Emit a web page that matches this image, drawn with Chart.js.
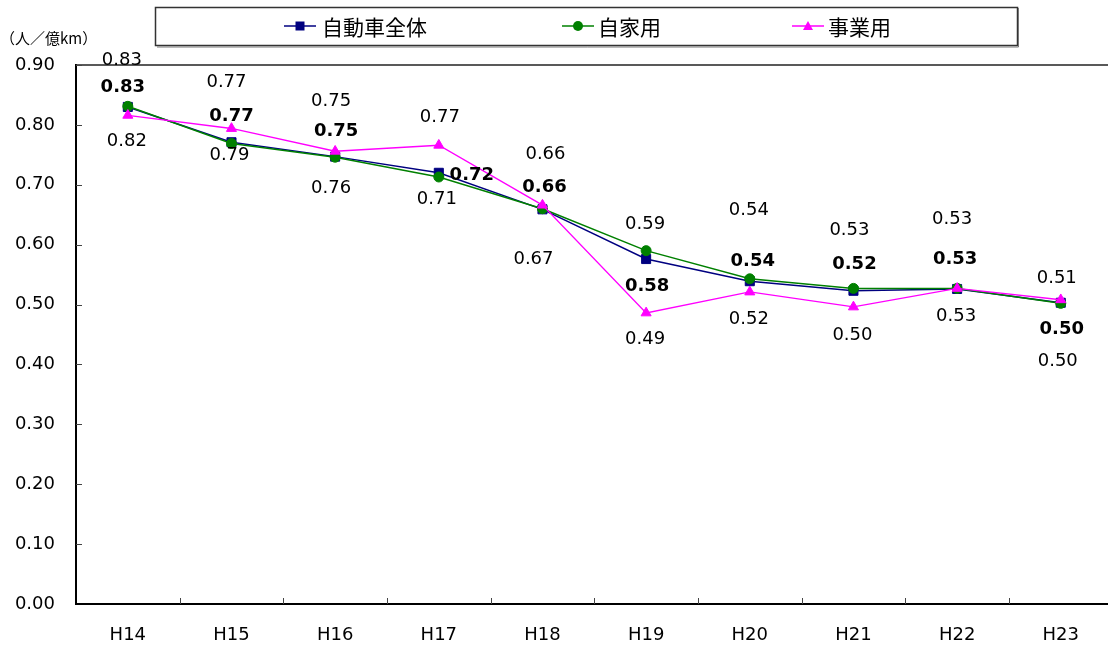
<!DOCTYPE html>
<html><head><meta charset="utf-8">
<script src="https://cdn.jsdelivr.net/npm/chart.js@4.4.1/dist/chart.umd.min.js"></script>
<style>
html,body{margin:0;padding:0;background:#fff;overflow:hidden;width:1108px;height:646px}
canvas{display:block}
</style>
</head><body>
<canvas id="c" width="1120" height="646"></canvas>
<script>
// ---- data ----
const categories = ['H14','H15','H16','H17','H18','H19','H20','H21','H22','H23'];
const seriesNames = ['自動車全体','自家用','事業用'];
const totalValues    = [0.830, 0.771, 0.747, 0.720, 0.659, 0.576, 0.539, 0.523, 0.526, 0.503];
const privateValues  = [0.831, 0.769, 0.746, 0.713, 0.660, 0.590, 0.543, 0.527, 0.527, 0.502];
const businessValues = [0.816, 0.794, 0.756, 0.766, 0.666, 0.486, 0.521, 0.496, 0.527, 0.508];
const yMin = 0, yMax = 0.9, yStep = 0.1;
const yUnit = '（人／億km）';

// ---- label layout (pixel offsets from each point) ----
const totalLabelOffsets    = [[-5,-20],[0,-26],[1,-25],[33,3],[2,-22],[1,27],[3,-20],[1,-26],[-2,-30],[1,27]];
const privateLabelOffsets  = [[-6,-46],[-5,-61],[-4,-56],[-2,22],[3,-54],[-1,-26],[-1,-68],[-4,-58],[-5,-69],[-3,58]];
const businessLabelOffsets = [[-1,26],[-2,27],[-4,37],[1,-28],[-9,54],[-1,26],[-1,27],[-1,28],[-1,28],[-4,-21]];

const colors = ['#000080','#008000','#ff00ff'];
const NUMFONT = '"DejaVu Sans", "Liberation Sans", Arial, sans-serif';
const CJKFONT = '"Noto Sans CJK JP", "Noto Sans", sans-serif';

function fmt(v){ return (Math.round(v*100)/100).toFixed(2); }

const labelSpecs = [
  {offsets: totalLabelOffsets, bold: true},
  {offsets: privateLabelOffsets, bold: false},
  {offsets: businessLabelOffsets, bold: false}
];

const decor = {
  id: 'decor',
  beforeDatasetsDraw(chart){
    const {ctx, chartArea:a, scales} = chart;
    ctx.save();
    ctx.strokeStyle = '#222'; ctx.lineWidth = 1.5;
    ctx.beginPath(); ctx.moveTo(a.left, a.top); ctx.lineTo(a.right, a.top); ctx.stroke();
    ctx.beginPath(); ctx.moveTo(a.right, a.top); ctx.lineTo(a.right, a.bottom); ctx.stroke();
    ctx.strokeStyle = '#444'; ctx.lineWidth = 1;
    for (let v = yMin + yStep; v <= yMax + 1e-9; v += yStep){
      const y = Math.round(scales.y.getPixelForValue(v)) + 0.5;
      ctx.beginPath(); ctx.moveTo(a.left, y); ctx.lineTo(a.left + 6, y); ctx.stroke();
    }
    for (let i = 1; i < categories.length; i++){
      const x = Math.round((scales.x.getPixelForValue(i-1) + scales.x.getPixelForValue(i))/2) + 0.5;
      ctx.beginPath(); ctx.moveTo(x, a.bottom); ctx.lineTo(x, a.bottom - 6); ctx.stroke();
    }
    ctx.restore();
  },
  afterDatasetsDraw(chart){
    const ctx = chart.ctx;
    ctx.save();
    ctx.fillStyle = '#000';
    ctx.textAlign = 'center';
    ctx.textBaseline = 'middle';
    chart.data.datasets.forEach((ds, di) => {
      const meta = chart.getDatasetMeta(di);
      const spec = labelSpecs[di];
      ctx.font = (spec.bold ? 'bold ' : '') + '18px ' + NUMFONT;
      meta.data.forEach((pt, i) => {
        const off = spec.offsets[i];
        ctx.fillText(fmt(ds.data[i]), pt.x + off[0], pt.y + off[1]);
      });
    });
    ctx.restore();
  },
  afterDraw(chart){
    const ctx = chart.ctx;
    ctx.save();
    ctx.fillStyle = '#000';
    ctx.font = '15px ' + CJKFONT;
    ctx.textAlign = 'left'; ctx.textBaseline = 'middle';
    ctx.fillText(yUnit, 0, 38);
    ctx.strokeStyle = '#333'; ctx.lineWidth = 1.5;
    ctx.strokeRect(155.5, 7.5, 862, 38);
    ctx.strokeStyle = '#777'; ctx.lineWidth = 1;
    ctx.beginPath(); ctx.moveTo(1018.5, 8); ctx.lineTo(1018.5, 47); ctx.lineTo(157, 47); ctx.stroke();
    const items = [{x:284, tx:322},{x:562, tx:598},{x:792, tx:828}];
    const ly = 26;
    chart.data.datasets.forEach((ds, di) => {
      const it = items[di];
      ctx.strokeStyle = colors[di]; ctx.lineWidth = 1.5;
      ctx.beginPath(); ctx.moveTo(it.x, ly); ctx.lineTo(it.x + 32, ly); ctx.stroke();
      const cx = it.x + 16;
      ctx.fillStyle = colors[di];
      ctx.beginPath();
      if (di === 0){ ctx.rect(cx - 4.5, ly - 4.5, 9, 9); }
      else if (di === 1){ ctx.arc(cx, ly, 5, 0, Math.PI*2); }
      else { ctx.moveTo(cx, ly - 5); ctx.lineTo(cx + 5, ly + 4); ctx.lineTo(cx - 5, ly + 4); ctx.closePath(); }
      ctx.fill();
      ctx.fillStyle = '#000';
      ctx.font = '21px ' + CJKFONT;
      ctx.textAlign = 'left'; ctx.textBaseline = 'middle';
      ctx.fillText(seriesNames[di], it.tx, ly + 1);
    });
    ctx.restore();
  }
};

const pointStyles = ['rect','circle','triangle'];
const pointRadii = [6.4, 5, 5.8];
const seriesValues = [totalValues, privateValues, businessValues];

new Chart(document.getElementById('c'), {
  type: 'line',
  data: {
    labels: categories,
    datasets: seriesNames.map((name, i) => ({
      label: name,
      data: seriesValues[i],
      borderColor: colors[i],
      backgroundColor: colors[i],
      borderWidth: i === 2 ? 1.3 : 1.5,
      pointStyle: pointStyles[i],
      pointRadius: pointRadii[i],
      pointHoverRadius: pointRadii[i],
      pointBorderWidth: 1,
      pointBorderColor: colors[i],
      pointBackgroundColor: colors[i],
      tension: 0,
      order: 3 - i
    }))
  },
  options: {
    responsive: false,
    animation: false,
    events: [],
    layout: { padding: { left: 0, right: 6, top: 65, bottom: 0 } },
    plugins: { legend: { display: false }, tooltip: { enabled: false } },
    scales: {
      x: {
        offset: true,
        grid: { display: false, drawTicks: false },
        border: { display: true, color: '#000', width: 2 },
        ticks: { color: '#000', font: { size: 18, family: NUMFONT }, padding: 21, maxRotation: 0 },
        afterFit(s){ s.height = 42; }
      },
      y: {
        min: yMin, max: yMax,
        grid: { display: false, drawTicks: false },
        border: { display: true, color: '#000', width: 2 },
        ticks: { stepSize: yStep, color: '#000', font: { size: 18, family: NUMFONT }, padding: 21,
                 callback: v => Number(v).toFixed(2) },
        afterFit(s){ s.width = 76; }
      }
    }
  },
  plugins: [decor]
});
</script>
</body></html>
